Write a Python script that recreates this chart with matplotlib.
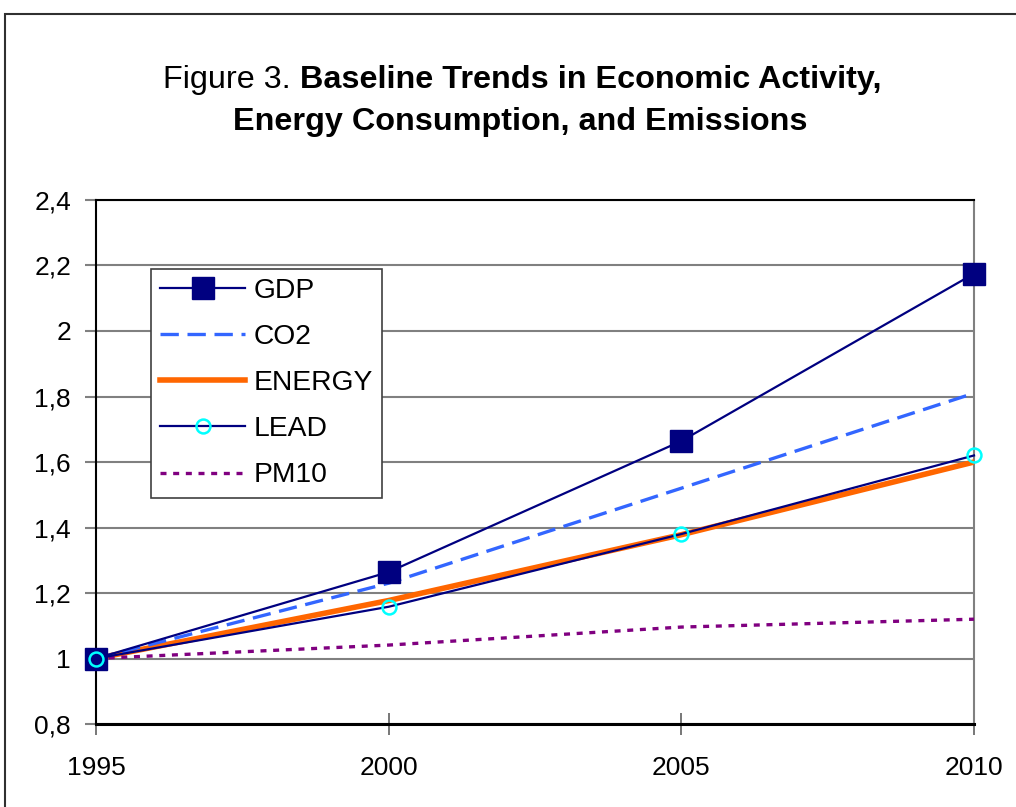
import matplotlib
matplotlib.use("Agg")
import matplotlib.pyplot as plt
from matplotlib.patches import Rectangle

plt.rcParams['font.family'] = ['Liberation Sans', 'DejaVu Sans']

years = [1995, 2000, 2005, 2010]
gdp = [1.00, 1.264, 1.664, 2.175]
co2 = [1.00, 1.23, 1.52, 1.81]
energy = [1.00, 1.177, 1.378, 1.600]
lead = [1.00, 1.158, 1.380, 1.620]
pm10 = [1.00, 1.041, 1.096, 1.120]

yticks = [0.8, 1.0, 1.2, 1.4, 1.6, 1.8, 2.0, 2.2, 2.4]
ytick_labels = ['0,8', '1', '1,2', '1,4', '1,6', '1,8', '2', '2,2', '2,4']
xtick_labels = ['1995', '2000', '2005', '2010']

W, H = 1016, 807
fig = plt.figure(figsize=(W / 100, H / 100), dpi=100)
ax = fig.add_axes([96 / W, 1 - 724 / H, (974 - 96) / W, (724 - 200) / H])

navy = '#000080'
ax.plot(years, gdp, color=navy, lw=1.6, marker='s', ms=15.5,
        markerfacecolor=navy, markeredgecolor=navy, label='GDP', zorder=5, clip_on=False)
ax.plot(years, co2, color='#3366FF', lw=2.4, ls=(0, (5.5, 2.6)), label='CO2', zorder=4)
ax.plot(years, energy, color='#FF6600', lw=4.0, label='ENERGY', zorder=3)
ax.plot(years, lead, color=navy, lw=1.6, marker='o', ms=10,
        markerfacecolor='none', markeredgecolor='#00FFFF', markeredgewidth=1.8,
        label='LEAD', zorder=6, clip_on=False)
ax.plot(years, pm10, color='#800080', lw=2.4, ls=(0, (1.8, 2.0)), label='PM10', zorder=4)

ax.set_xlim(1995, 2010)
ax.set_ylim(0.8, 2.4)
ax.set_yticks(yticks)
ax.set_yticklabels(ytick_labels)
ax.set_xticks(years)
ax.set_xticklabels(xtick_labels)
ax.grid(axis='y', color='#808080', lw=1.5)
ax.set_axisbelow(True)

for s in ['left', 'top']:
    ax.spines[s].set_color('black')
    ax.spines[s].set_linewidth(1.5)
ax.spines['bottom'].set_color('black')
ax.spines['bottom'].set_linewidth(2.2)
ax.spines['right'].set_color('#808080')
ax.spines['right'].set_linewidth(1.5)

ax.tick_params(axis='y', direction='out', length=8, width=1.5, color='#808080',
               labelsize=19, pad=10)
ax.tick_params(axis='x', direction='inout', length=16, width=1.2, color='#606060',
               labelsize=19, pad=15)

leg = ax.legend(loc='upper left', bbox_to_anchor=((151 - 96) / 878, (724 - 269) / 524),
                borderaxespad=0, fontsize=20.3, handlelength=3.0, handletextpad=0.3,
                labelspacing=0.71, borderpad=0.33, frameon=True, fancybox=False)
leg.get_frame().set_edgecolor('#404040')
leg.get_frame().set_linewidth(1.2)
leg.get_frame().set_alpha(1)

# Title with mixed weights
fig.canvas.draw()
renderer = fig.canvas.get_renderer()

def mixed_line(y_px, parts, center_px, size):
    texts = []
    for txt, weight in parts:
        t = fig.text(0, 1 - y_px / H, txt, fontsize=size, fontweight=weight,
                     va='baseline', ha='left')
        texts.append(t)
    widths = [t.get_window_extent(renderer).width for t in texts]
    total = sum(widths)
    x = center_px - total / 2
    for t, w in zip(texts, widths):
        t.set_x(x / W)
        x += w

mixed_line(88, [('Figure 3. ', 'normal'), ('Baseline Trends in Economic Activity,', 'bold')], 522, 23.3)
mixed_line(130, [('Energy Consumption, and Emissions', 'bold')], 520, 23.3)

# outer border
fig.patches.append(Rectangle((5 / W, -0.01), 1.2, 1 - 14 / H + 0.01,
                             transform=fig.transFigure, fill=False,
                             edgecolor='#303030', lw=1.5))

fig.savefig('out.png', dpi=100)
